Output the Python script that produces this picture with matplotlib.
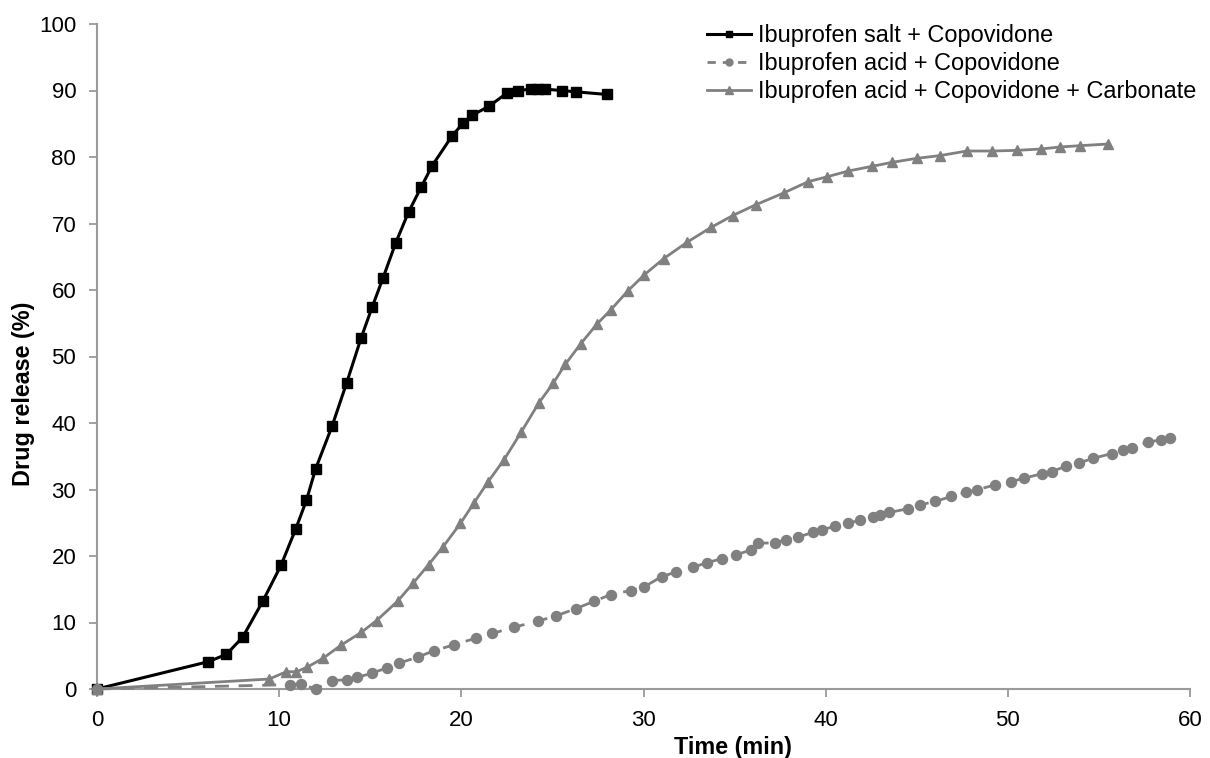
import matplotlib
matplotlib.use("Agg")
import matplotlib.pyplot as plt
from matplotlib.lines import Line2D

plt.rcParams['font.family'] = ['Liberation Sans', 'DejaVu Sans']

# Ibuprofen salt + Copovidone
salt_t = [0, 6.1, 7.1, 8.0, 9.1, 10.1, 10.9, 11.5, 12.0, 12.9, 13.7, 14.5, 15.1,
          15.7, 16.4, 17.1, 17.8, 18.4, 19.5, 20.1, 20.6, 21.5, 22.5, 23.1, 23.8,
          24.2, 24.6, 25.5, 26.3, 28.0]
salt_y = [0, 4.1, 5.2, 7.8, 13.2, 18.6, 24.0, 28.4, 33.1, 39.5, 46.0, 52.8, 57.4,
          61.8, 67.1, 71.7, 75.5, 78.7, 83.2, 85.1, 86.3, 87.6, 89.6, 90.0, 90.2,
          90.3, 90.2, 90.0, 89.8, 89.4]

# Ibuprofen acid + Copovidone
acid_t = [0, 10.6, 11.2, 12.0, 12.9, 13.7, 14.3, 15.1, 15.9, 16.6, 17.6, 18.5,
          19.6, 20.8, 21.7, 22.9, 24.2, 25.2, 26.3, 27.3, 28.2, 29.3, 30.0, 31.0,
          31.8, 32.7, 33.5, 34.3, 35.1, 35.9, 36.3, 37.2, 37.8, 38.5, 39.3, 39.8,
          40.5, 41.2, 41.9, 42.6, 43.0, 43.5, 44.5, 45.2, 46.0, 46.9, 47.7, 48.3,
          49.3, 50.2, 50.9, 51.9, 52.4, 53.2, 53.9, 54.7, 55.7, 56.3, 56.8, 57.7,
          58.4, 58.9]
acid_y = [0, 0.65, 0.75, 0, 1.25, 1.4, 1.75, 2.4, 3.15, 3.9, 4.8, 5.75,
          6.65, 7.65, 8.35, 9.3, 10.2, 11.0, 12.1, 13.2, 14.2, 14.8, 15.3, 16.9,
          17.6, 18.3, 19.0, 19.6, 20.2, 20.9, 21.95, 21.95, 22.45, 22.85, 23.55, 23.95,
          24.45, 24.95, 25.35, 25.85, 26.2, 26.55, 27.1, 27.7, 28.2, 28.95, 29.55, 29.95,
          30.7, 31.2, 31.7, 32.4, 32.7, 33.5, 34.0, 34.7, 35.4, 36.0, 36.3, 37.1,
          37.5, 37.75]

# Ibuprofen acid + Copovidone + Carbonate
carb_t = [0, 9.45, 10.4, 10.95, 11.55, 12.4, 13.4, 14.5, 15.35, 16.5, 17.35, 18.2,
          19.0, 19.95, 20.7, 21.45, 22.35, 23.3, 24.25, 25.05, 25.7, 26.55, 27.45,
          28.2, 29.15, 30.05, 31.1, 32.4, 33.7, 34.9, 36.15, 37.7, 39.05, 40.05,
          41.25, 42.55, 43.65, 45.0, 46.25, 47.75, 49.15, 50.5, 51.8, 52.85, 53.95,
          55.5]
carb_y = [0, 1.5, 2.6, 2.6, 3.3, 4.6, 6.6, 8.5, 10.3, 13.2, 15.9, 18.7,
          21.4, 24.9, 28.0, 31.1, 34.5, 38.7, 43.0, 46.0, 48.8, 51.9, 54.9,
          57.0, 59.9, 62.3, 64.7, 67.2, 69.4, 71.2, 72.8, 74.6, 76.3, 77.0,
          77.9, 78.6, 79.2, 79.8, 80.2, 80.9, 80.9, 81.0, 81.2, 81.5, 81.7,
          81.95]

labels = ["Ibuprofen salt + Copovidone",
          "Ibuprofen acid + Copovidone",
          "Ibuprofen acid + Copovidone + Carbonate"]

x_ticks = [0, 10, 20, 30, 40, 50, 60]
y_ticks = [0, 10, 20, 30, 40, 50, 60, 70, 80, 90, 100]

gray = "#808080"
axis_gray = "#9a9a9a"

fig = plt.figure(figsize=(12.1, 7.58), dpi=100)
ax = fig.add_axes([97 / 1210, 1 - 689 / 758, (1190 - 97) / 1210, (689 - 24) / 758])

ax.plot(salt_t, salt_y, color="black", lw=2.2, marker="s", ms=7.2,
        mec="black", mfc="black", zorder=3, clip_on=False)
ax.plot(acid_t, acid_y, color=gray, lw=2.0, ls=(0, (5, 3.5)), marker="o", ms=7.2,
        mec=gray, mfc=gray, zorder=4, clip_on=False)
ax.plot(carb_t, carb_y, color=gray, lw=2.0, marker="^", ms=7.5,
        mec=gray, mfc=gray, zorder=5, clip_on=False)

ax.set_xlim(0, 60)
ax.set_ylim(0, 100)
ax.set_xticks(x_ticks)
ax.set_yticks(y_ticks)

for side in ("top", "right"):
    ax.spines[side].set_visible(False)
for side in ("left", "bottom"):
    ax.spines[side].set_color(axis_gray)
    ax.spines[side].set_linewidth(1.5)

ax.tick_params(axis="both", colors=axis_gray, labelcolor="black", labelsize=16,
               length=6, width=1.3, direction="out")
ax.tick_params(axis="x", pad=9)
ax.tick_params(axis="y", pad=9)

ax.set_xlabel("Time (min)", fontsize=16.8, fontweight="bold")
ax.xaxis.set_label_coords(0.582, -0.0887)
ax.xaxis.label.set_va("center")
ax.set_ylabel("Drug release (%)", fontsize=16.8, fontweight="bold")
ax.yaxis.set_label_coords(-0.0677, 0.4436)
ax.yaxis.label.set_va("center")

handles = [
    Line2D([], [], color="black", lw=2.2, marker="s", ms=5, mfc="black", mec="black"),
    Line2D([], [], color=gray, lw=2.0, ls=(0, (3, 2.5)), marker="o", ms=5, mfc=gray, mec=gray),
    Line2D([], [], color=gray, lw=2.0, marker="^", ms=5.5, mfc=gray, mec=gray),
]
fig.legend(handles, labels, loc="upper right", bbox_to_anchor=(1196 / 1210, 1 - 24 / 758),
           frameon=False, fontsize=16.9, handlelength=1.9, handletextpad=0.28,
           labelspacing=0.22, borderaxespad=0, borderpad=0)

fig.savefig("out.png", dpi=100)
